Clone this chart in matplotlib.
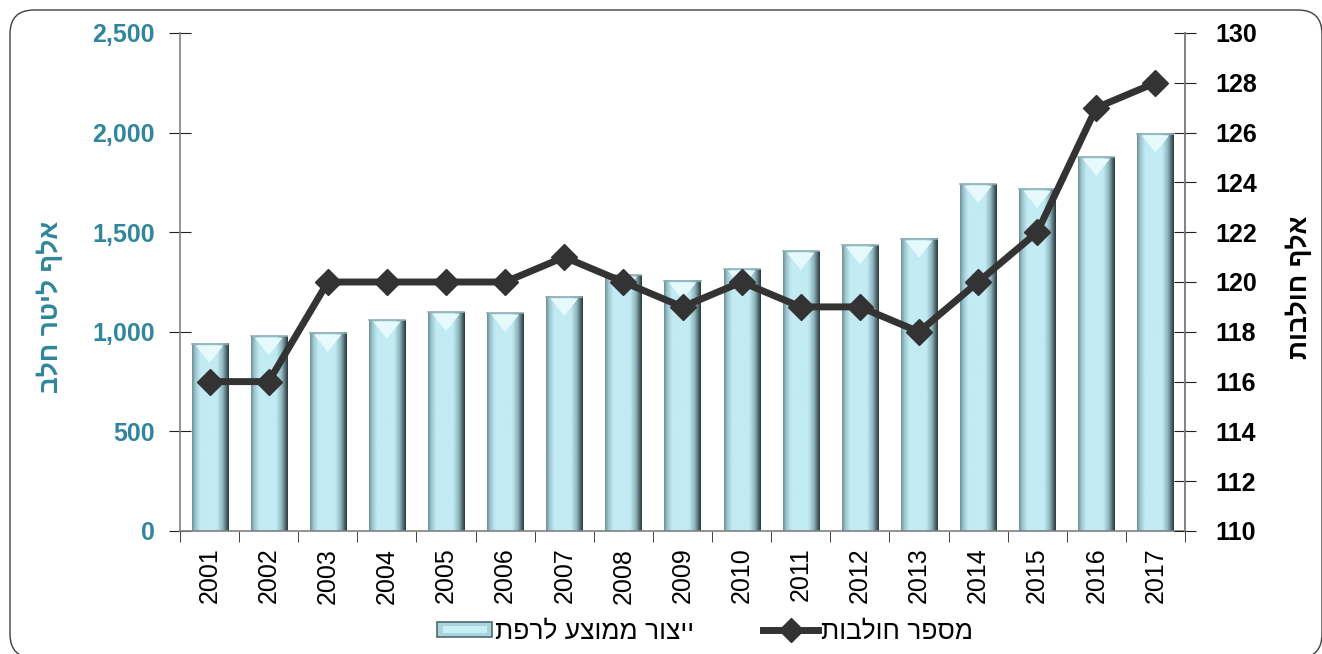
import numpy as np
import matplotlib
matplotlib.use('Agg')
import matplotlib.pyplot as plt
from matplotlib.colors import LinearSegmentedColormap
from matplotlib.patches import FancyBboxPatch, Rectangle
from matplotlib.lines import Line2D
from matplotlib.legend_handler import HandlerBase

plt.rcParams['font.family'] = ['Liberation Sans', 'DejaVu Sans']

years = ['2001', '2002', '2003', '2004', '2005', '2006', '2007', '2008', '2009',
         '2010', '2011', '2012', '2013', '2014', '2015', '2016', '2017']
milk = [939, 977, 994, 1059, 1098, 1094, 1175, 1285, 1256,
        1315, 1405, 1434, 1466, 1741, 1716, 1877, 1994]
cows = [116, 116, 120, 120, 120, 120, 121, 120, 119,
        120, 119, 119, 118, 120, 122, 127, 128]

bar_name = 'ייצור ממוצע לרפת'
line_name = 'מספר חולבות'
left_label = 'אלף ליטר חלב'
right_label = 'אלף חולבות'


def heb(s):
    # matplotlib has no bidi support, so flip Hebrew for display
    return s[::-1]


teal = '#31869B'
dark = '#333333'
axis_gray = '#808080'

bevel = LinearSegmentedColormap.from_list('bevel', [
    (0.0, '#6F8F95'), (0.08, '#9CC4CC'), (0.22, '#C2EBF3'),
    (0.68, '#C2EBF3'), (0.84, '#90B6BE'), (0.94, '#4E686D'), (1.0, '#2A3A3E')])
grad = np.linspace(0, 1, 64).reshape(1, -1)

fig = plt.figure(figsize=(13.22, 6.54), dpi=100)
# rounded frame round the whole chart (pixel coords)
fig.patches.append(FancyBboxPatch((10, -4), 1312, 648,
                                  boxstyle='round,pad=0,rounding_size=24',
                                  transform=None, fill=False,
                                  edgecolor='#404040', linewidth=1.0))

ax = fig.add_axes([180 / 1322, 1 - 531 / 654, 1005 / 1322, 498 / 654])
x = np.arange(len(years))
bw = 0.61

bars = ax.bar(x, milk, width=bw, color='#C2EBF3', edgecolor='none', zorder=2)
for b in bars:
    x0, w, h = b.get_x(), b.get_width(), b.get_height()
    ax.imshow(grad, cmap=bevel, aspect='auto', extent=(x0, x0 + w, 0, h),
              zorder=2.1, interpolation='bicubic')
    ax.fill([x0 + w * 0.12, x0 + w * 0.88, x0 + w * 0.5],
            [h - 8, h - 8, h - 95], color='#E6FAFD', zorder=2.2, lw=0)
    ax.plot([x0, x0 + w], [h, h], color='#8FAFB5', lw=1.2, zorder=2.3)

ax.set_xlim(-0.5, len(years) - 0.5)
ax.set_ylim(0, 2500)
ax.set_yticks(np.arange(0, 2501, 500))
ax.yaxis.set_major_formatter(matplotlib.ticker.FuncFormatter(lambda v, p: f'{int(v):,}'))
ax.set_xticks(x)
ax.set_xticklabels(years, rotation=90, fontsize=18)
ax.set_xticks(np.arange(-0.5, len(years), 1), minor=True)
ax.tick_params(axis='x', which='major', length=0, pad=12)
ax.tick_params(axis='x', which='minor', direction='out', length=8, color='#222222')
ax.tick_params(axis='y', direction='inout', length=16, color='#222222',
               labelsize=18, labelcolor=teal, pad=10)
for lab in ax.get_yticklabels():
    lab.set_fontweight('bold')
ax.set_ylabel(heb(left_label), color=teal, fontsize=19, fontweight='bold')
ax.yaxis.set_label_coords(-0.116, 0.45)

ax.spines['top'].set_visible(False)
for s in ['left', 'bottom', 'right']:
    ax.spines[s].set_color(axis_gray)
    ax.spines[s].set_linewidth(1.2)

ax2 = ax.twinx()
ax2.plot(x, cows, color=dark, lw=5, marker='D', markersize=13, zorder=5)
ax2.set_ylim(110, 130)
ax2.set_yticks(np.arange(110, 131, 2))
ax2.tick_params(axis='y', direction='inout', length=16, color='#222222',
                labelsize=18, labelcolor='black', pad=14)
for lab in ax2.get_yticklabels():
    lab.set_fontweight('bold')
ax2.spines['top'].set_visible(False)
ax2.spines['right'].set_color(axis_gray)
ax2.spines['right'].set_linewidth(1.2)
ax2.spines['left'].set_visible(False)
ax2.spines['bottom'].set_visible(False)
ax2.set_ylabel(heb(right_label), fontsize=19, fontweight='bold', rotation=90)
ax2.yaxis.set_label_coords(1.1, 0.49)


class BevelHandler(HandlerBase):
    def create_artists(self, legend, orig, xd, yd, width, height, fontsize, trans):
        outer = Rectangle((xd, yd + height * 0.1), width, height * 0.8,
                          facecolor='#A9D4DD', edgecolor='#4E686D',
                          lw=1.2, transform=trans)
        inner = Rectangle((xd + 4, yd + height * 0.3), width - 8, height * 0.4,
                          facecolor='#C8EFF6', edgecolor='none', transform=trans)
        return [outer, inner]


bar_handle = Rectangle((0, 0), 1, 1)
line_handle = Line2D([], [], color=dark, lw=5, marker='D', markersize=12)
fig.legend([bar_handle, line_handle], [heb(bar_name), heb(line_name)],
           handler_map={Rectangle: BevelHandler()},
           loc='center', bbox_to_anchor=(705 / 1322, 1 - 632 / 654), ncol=2,
           frameon=False, fontsize=19, handlelength=2.1, handletextpad=0.1,
           columnspacing=2.6)

fig.savefig('out.png', dpi=100)
